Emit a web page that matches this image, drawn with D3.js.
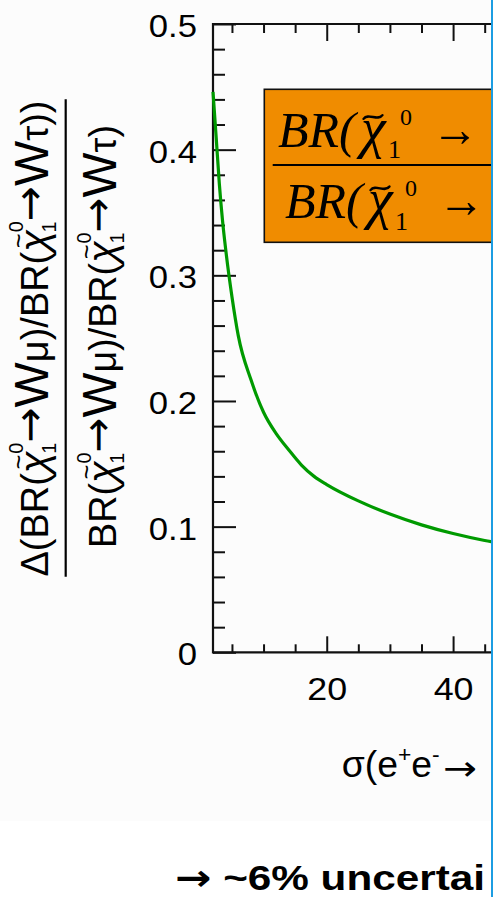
<!DOCTYPE html>
<html>
<head>
<meta charset="utf-8">
<script src="https://cdn.jsdelivr.net/npm/d3@7/dist/d3.min.js"></script>
<style>
  html, body { margin: 0; padding: 0; background: #fff; overflow: hidden; }
  svg { display: block; }
</style>
</head>
<body>
<svg id="chart" width="493" height="897"></svg>
<script>
// Relative uncertainty of the BR(mu)/BR(tau) ratio versus the production cross section
const sigmaFb = [2, 2.5, 3, 3.5, 4, 5, 6, 8, 10, 12, 14, 16, 18, 20, 25, 30, 35, 40, 45, 50];
const relUncertainty = [0.446, 0.410, 0.373, 0.344, 0.321, 0.283, 0.252, 0.217, 0.191, 0.174,
                        0.161, 0.149, 0.140, 0.1335, 0.1205, 0.110, 0.1014, 0.0945, 0.089, 0.085];

const xMajorTicks = [20, 40];
const xTickLabels = ["20", "40"];
const xMinorTicks = [5, 10, 15, 25, 30, 35, 45];
const yMajorTicks = [0, 0.1, 0.2, 0.3, 0.4, 0.5];
const yTickLabels = ["0", "0.1", "0.2", "0.3", "0.4", "0.5"];
const yMinorTicks = [0.02, 0.04, 0.06, 0.08, 0.12, 0.14, 0.16, 0.18, 0.22, 0.24, 0.26, 0.28,
                     0.32, 0.34, 0.36, 0.38, 0.42, 0.44, 0.46, 0.48];

const W = 493, H = 897;
const visibleRight = 491;
const SANS = "'Liberation Sans', Arial, Helvetica, sans-serif";
const SERIF = "'Liberation Serif', 'Times New Roman', Times, serif";
const ARROW = "'DejaVu Sans', sans-serif";

const svg = d3.select("#chart");

// faint panel tint behind the plot
svg.append("rect").attr("width", W).attr("height", 821).attr("fill", "#fcfcfc");

svg.append("defs").append("clipPath").attr("id", "view")
  .append("rect").attr("x", 0).attr("y", 0).attr("width", visibleRight).attr("height", H);

const root = svg.append("g").attr("clip-path", "url(#view)");

const x = d3.scaleLinear().domain([2, 46]).range([213, 491]);
const y = d3.scaleLinear().domain([0, 0.5]).range([652.3, 24]);
const frameRight = W + 30;

function styleTicks(g) {
  g.selectAll(".domain").remove();
  g.selectAll(".tick line").attr("stroke", "#111").attr("stroke-width", 2);
}

// bottom axis
root.append("g").attr("transform", `translate(0,${y(0)})`)
  .call(d3.axisBottom(x).tickValues(xMinorTicks).tickSizeInner(-8).tickSizeOuter(0).tickFormat(""))
  .call(styleTicks);
const bottomAxis = root.append("g").attr("transform", `translate(0,${y(0)})`)
  .call(d3.axisBottom(x).tickValues(xMajorTicks).tickSizeInner(-16).tickSizeOuter(0).tickFormat((d, i) => xTickLabels[i]))
  .call(styleTicks);
bottomAxis.selectAll(".tick text")
  .attr("y", 0).attr("dy", null)
  .attr("transform", "translate(0,47.7) scale(1.12,1)")
  .style("font", `32px ${SANS}`).attr("fill", "#000");

// top axis (ticks only)
root.append("g").attr("transform", `translate(0,${y(0.5)})`)
  .call(d3.axisTop(x).tickValues(xMinorTicks).tickSizeInner(-9).tickSizeOuter(0).tickFormat(""))
  .call(styleTicks);
root.append("g").attr("transform", `translate(0,${y(0.5)})`)
  .call(d3.axisTop(x).tickValues(xMajorTicks).tickSizeInner(-17).tickSizeOuter(0).tickFormat(""))
  .call(styleTicks);

// left axis
root.append("g").attr("transform", `translate(${x(2)},0)`)
  .call(d3.axisLeft(y).tickValues(yMinorTicks).tickSizeInner(-12).tickSizeOuter(0).tickFormat(""))
  .call(styleTicks);
const leftAxis = root.append("g").attr("transform", `translate(${x(2)},0)`)
  .call(d3.axisLeft(y).tickValues(yMajorTicks).tickSizeInner(-23).tickSizeOuter(0).tickFormat((d, i) => yTickLabels[i]))
  .call(styleTicks);
leftAxis.selectAll(".tick text")
  .attr("x", 0).attr("dy", 12.6)
  .attr("transform", "translate(-16,0) scale(1.12,1)")
  .style("font", `31px ${SANS}`).attr("fill", "#000");

// frame: left edge plus top and bottom running out of view
const frame = root.append("g").attr("stroke", "#111").attr("stroke-width", 2.2);
frame.append("line").attr("x1", x(2)).attr("x2", frameRight).attr("y1", y(0.5)).attr("y2", y(0.5));
frame.append("line").attr("x1", x(2)).attr("x2", frameRight).attr("y1", y(0)).attr("y2", y(0));
frame.append("line").attr("x1", x(2)).attr("x2", x(2)).attr("y1", y(0.5) - 1.1).attr("y2", y(0) + 1.1);

// curve
const line = d3.line()
  .x((d, i) => x(sigmaFb[i]))
  .y(d => y(d))
  .curve(d3.curveMonotoneX);
root.append("path")
  .datum(relUncertainty)
  .attr("d", line)
  .attr("fill", "none")
  .attr("stroke", "#009a00")
  .attr("stroke-width", 3.2);

// rich text helper: parts carry a baseline offset, font size, style
function rich(sel, parts) {
  let cur = 0;
  parts.forEach(p => {
    const ts = sel.append("tspan").text(p.t);
    const off = p.off || 0;
    if (off !== cur) { ts.attr("dy", off - cur); cur = off; }
    if (p.dx) ts.attr("dx", p.dx);
    if (p.size) ts.attr("font-size", p.size);
    if (p.italic) ts.attr("font-style", "italic");
    if (p.family) ts.style("font-family", p.family);
    if (p.weight) ts.attr("font-weight", p.weight);
  });
}

// neutralino with tilde, lower index 1 and upper index 0
function neutralino() {
  return [
    { t: "\u03C7", italic: true, size: 40 },
    { t: "~", size: 25, off: -21, dx: -18 },
    { t: "1", size: 20, off: 8, dx: 1 },
    { t: "0", size: 20, off: -25, dx: -11 }
  ];
}
const decayArrow = { t: "\u2192", size: 42, off: -4, family: ARROW };

// y-axis title as a stacked fraction
const yNum = root.append("text")
  .attr("transform", "translate(48,338.5) rotate(-90)")
  .attr("text-anchor", "middle")
  .attr("textLength", 476).attr("lengthAdjust", "spacingAndGlyphs")
  .style("font-family", SANS).attr("font-size", 38).attr("fill", "#000");
rich(yNum, [
  { t: "\u0394(BR(" },
  ...neutralino(),
  decayArrow,
  { t: "W", size: 48 },
  { t: "\u03BC" },
  { t: ")/BR(" },
  ...neutralino(),
  decayArrow,
  { t: "W", size: 48 },
  { t: "\u03C4" },
  { t: "))" }
]);

root.append("line")
  .attr("x1", 65.7).attr("x2", 65.7).attr("y1", 99.3).attr("y2", 576.7)
  .attr("stroke", "#000").attr("stroke-width", 2.2);

const yDen = root.append("text")
  .attr("transform", "translate(116,336.5) rotate(-90)")
  .attr("text-anchor", "middle")
  .attr("textLength", 423).attr("lengthAdjust", "spacingAndGlyphs")
  .style("font-family", SANS).attr("font-size", 38).attr("fill", "#000");
rich(yDen, [
  { t: "BR(" },
  ...neutralino(),
  decayArrow,
  { t: "W", size: 48 },
  { t: "\u03BC" },
  { t: ")/BR(" },
  ...neutralino(),
  decayArrow,
  { t: "W", size: 48 },
  { t: "\u03C4" },
  { t: ")" }
]);

// x-axis title
const xTitle = root.append("text")
  .attr("x", 341.7).attr("y", 777)
  .attr("textLength", 98).attr("lengthAdjust", "spacingAndGlyphs")
  .style("font-family", SANS).attr("font-size", 36).attr("fill", "#000");
rich(xTitle, [
  { t: "\u03C3(e" },
  { t: "+", size: 22, off: -15 },
  { t: "e" },
  { t: "-", size: 22, off: -15 }
]);
root.append("text")
  .attr("x", 443).attr("y", 780)
  .attr("textLength", 34).attr("lengthAdjust", "spacingAndGlyphs")
  .style("font-family", ARROW).attr("font-size", 34).attr("fill", "#000")
  .text("\u2192");

// boxed ratio label
root.append("rect")
  .attr("x", 264.3).attr("y", 89.3).attr("width", 260).attr("height", 153)
  .attr("fill", "#f08c00").attr("stroke", "#111").attr("stroke-width", 1.6);
root.append("line")
  .attr("x1", 272.7).attr("x2", frameRight).attr("y1", 165).attr("y2", 165)
  .attr("stroke", "#000").attr("stroke-width", 2);

// tilde accent drawn as a stroke above the chi
function tildeAccent(cx, cy, w) {
  const h = w * 0.16;
  root.append("path")
    .attr("d", `M${cx - w / 2},${cy + h * 0.6} C${cx - w / 4},${cy - h * 1.6} ${cx + w / 4},${cy + h * 1.6} ${cx + w / 2},${cy - h * 0.6}`)
    .attr("fill", "none").attr("stroke", "#000").attr("stroke-width", 2.4).attr("stroke-linecap", "round");
}

function boxLine(bx, base, chiX, subX, subY, supX, supY, arrowX) {
  const t = root.append("text").style("font-family", SERIF).attr("fill", "#000");
  t.append("tspan").attr("x", bx).attr("y", base).attr("font-size", 50).attr("font-style", "italic").text("BR(");
  t.append("tspan").attr("x", chiX).attr("y", base).attr("font-size", 56).attr("font-style", "italic").text("\u03C7");
  t.append("tspan").attr("x", subX).attr("y", subY).attr("font-size", 26).text("1");
  t.append("tspan").attr("x", supX).attr("y", supY).attr("font-size", 24).text("0");
  tildeAccent(chiX + 12, base - 30, 19);
  root.append("text")
    .attr("x", arrowX).attr("y", base - 1)
    .attr("textLength", 47).attr("lengthAdjust", "spacingAndGlyphs")
    .style("font-family", SERIF).attr("font-size", 50).attr("fill", "#000")
    .text("\u2192");
}
boxLine(278, 147, 361, 388, 158, 400, 125, 431.7);
boxLine(285, 218.3, 368, 395, 230, 405, 196, 438);

// conclusion line
const note = root.append("text")
  .attr("x", 175).attr("y", 890)
  .attr("textLength", 310).attr("lengthAdjust", "spacingAndGlyphs")
  .style("font-family", SANS).attr("font-size", 35).attr("font-weight", "bold").attr("fill", "#000");
rich(note, [
  { t: "\u2192", family: ARROW, size: 36 },
  { t: " ~6% uncertai" }
]);

// slide border on the right
svg.append("rect").attr("x", visibleRight).attr("y", 0).attr("width", 2).attr("height", H).attr("fill", "#1c9de2");
</script>
</body>
</html>
